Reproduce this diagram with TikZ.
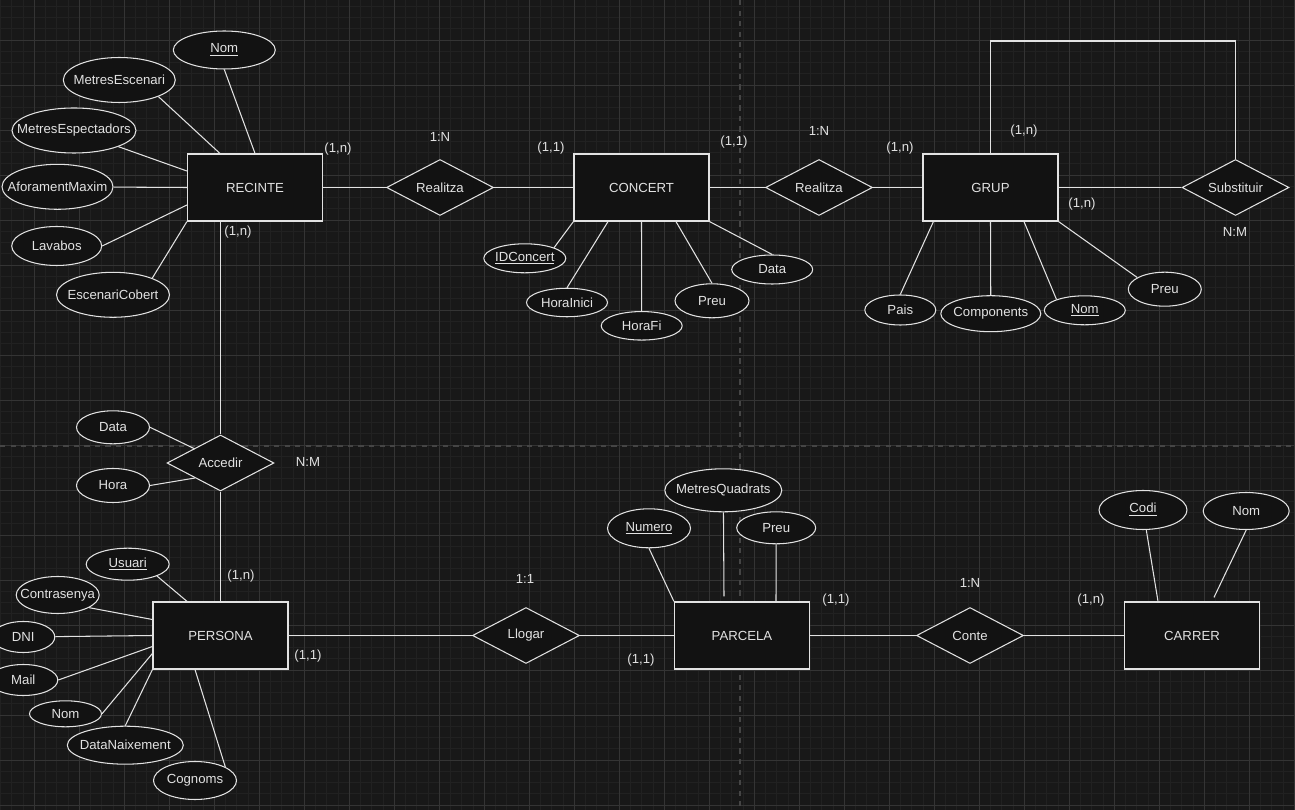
\documentclass[tikz,border=0pt]{standalone}
\usepackage{fontspec}
\setmainfont{Liberation Sans}
\usetikzlibrary{shapes.geometric, positioning}
\definecolor{bg}{HTML}{181818}
\definecolor{gridminor}{HTML}{212121}
\definecolor{gridmajor}{HTML}{343434}
\definecolor{pageline}{HTML}{454545}
\definecolor{ink}{HTML}{E2E2E2}
\definecolor{boxfill}{HTML}{121212}

\begin{document}
\begin{tikzpicture}[x=0.02cm, y=-0.02cm, color=ink, font=\fontsize{7.5}{9}\selectfont,
    ent/.style={draw, fill=boxfill, line width=0.7pt, minimum width=2.7cm, minimum height=1.34cm, inner sep=0pt},
    rel/.style={diamond, aspect=2, draw, fill=boxfill, line width=0.6pt, minimum width=2.14cm, minimum height=1.12cm, inner sep=0pt},
    attr/.style 2 args={ellipse, draw, fill=boxfill, line width=0.6pt, minimum width=#1, minimum height=#2, inner sep=0pt},
    conn/.style={line width=0.6pt},
    card/.style={inner sep=1pt}]
        \useasboundingbox (0,0) rectangle (1295,810);
        \fill[bg] (0,0) rectangle (1295,810);
        \foreach \gx in {0,...,115} \draw[gridminor, line width=0.4pt] ({0.55+11.25*\gx},0) -- ++(0,810);
        \foreach \gy in {0,...,71} \draw[gridminor, line width=0.4pt] (0,{6.25+11.25*\gy}) -- ++(1295,0);
        \foreach \gx in {0,...,28} \draw[gridmajor, line width=0.5pt] ({34.3+45*\gx},0) -- ++(0,810);
        \foreach \gy in {0,...,17} \draw[gridmajor, line width=0.5pt] (0,{40+45*\gy}) -- ++(1295,0);
        \draw[pageline, line width=0.6pt, dash pattern=on 3pt off 3pt] (740,0) -- (740,810);
        \draw[pageline, line width=0.6pt, dash pattern=on 3pt off 3pt] (0,446) -- (1295,446);

        \node[ent] (recinte) at (255,187.5) {RECINTE};
        \node[ent] (concert) at (641.5,187.5) {CONCERT};
        \node[ent] (grup) at (990.5,187.5) {GRUP};
        \node[ent] (persona) at (220.5,635.5) {PERSONA};
        \node[ent] (parcela) at (742,635.5) {PARCELA};
        \node[ent] (carrer) at (1192,635.5) {CARRER};

        \node[rel] (realR) at (440,187.5) {Realitza};
        \node[rel] (realG) at (819,187.5) {Realitza};
        \node[rel] (subst) at (1235.5,187.5) {Substituir};
        \node[rel] (accedir) at (220.5,463) {Accedir};
        \node[rel] (llogar) at (526,635.5) {Llogar};
        \node[rel] (conte) at (970,635.5) {Conte};

        \node[attr={2.04cm}{0.76cm}, label=center:{\underline{Nom}}] (nomR) at (224.3,50) {};
        \node[attr={2.24cm}{0.9cm}, label=center:MetresEscenari] (mescR) at (119.3,80) {};
        \node[attr={2.48cm}{0.9cm}, label=center:MetresEspectadors] (mespR) at (74,130.5) {};
        \node[attr={2.22cm}{0.9cm}, label=center:AforamentMaxim] (aforR) at (57.5,186.8) {};
        \node[attr={1.8cm}{0.78cm}, label=center:Lavabos] (lavR) at (56.7,246) {};
        \node[attr={2.26cm}{0.9cm}, label=center:EscenariCobert] (escR) at (113,294.8) {};

        \node[attr={1.64cm}{0.58cm}, label=center:{\underline{IDConcert}}] (idC) at (524.8,258.3) {};
        \node[attr={1.62cm}{0.57cm}, label=center:HoraInici] (hiniC) at (567,302.5) {};
        \node[attr={1.62cm}{0.57cm}, label=center:HoraFi] (hfiC) at (641.7,325.8) {};
        \node[attr={1.48cm}{0.68cm}, label=center:Preu] (preuC) at (712,300.8) {};
        \node[attr={1.62cm}{0.58cm}, label=center:Data] (dataC) at (772.2,269.5) {};

        \node[attr={1.42cm}{0.6cm}, label=center:Pais] (paisG) at (900.3,310) {};
        \node[attr={2.0cm}{0.72cm}, label=center:Components] (compG) at (990.8,313.7) {};
        \node[attr={1.62cm}{0.58cm}, label=center:{\underline{Nom}}] (nomG) at (1084.8,310.3) {};
        \node[attr={1.46cm}{0.68cm}, label=center:Preu] (preuG) at (1164.8,289.2) {};

        \node[attr={1.46cm}{0.66cm}, label=center:Data] (dataA) at (113,427.3) {};
        \node[attr={1.46cm}{0.68cm}, label=center:Hora] (horaA) at (113,485.5) {};

        \node[attr={1.66cm}{0.64cm}, label=center:{\underline{Usuari}}] (usuP) at (127.7,564.2) {};
        \node[attr={1.66cm}{0.74cm}, label=center:Contrasenya] (contP) at (57.7,595) {};
        \node[attr={1.26cm}{0.62cm}, label=center:DNI] (dniP) at (23.3,637) {};
        \node[attr={1.38cm}{0.62cm}, label=center:Mail] (mailP) at (23.3,680) {};
        \node[attr={1.44cm}{0.52cm}, label=center:Nom] (nomP) at (65.5,713.8) {};
        \node[attr={2.32cm}{0.76cm}, label=center:DataNaixement] (dnP) at (125.3,745.2) {};
        \node[attr={1.66cm}{0.76cm}, label=center:Cognoms] (cogP) at (195,780.5) {};

        \node[attr={1.66cm}{0.78cm}, label=center:{\underline{Numero}}] (numP) at (649,528.3) {};
        \node[attr={2.34cm}{0.86cm}, label=center:MetresQuadrats] (mqP) at (723.3,490.3) {};
        \node[attr={1.58cm}{0.64cm}, label=center:Preu] (preuP) at (776.2,527.8) {};

        \node[attr={1.76cm}{0.78cm}, label=center:{\underline{Codi}}] (codiC) at (1143,510) {};
        \node[attr={1.72cm}{0.74cm}, label=center:Nom] (nomC) at (1246.2,511) {};

        \node[card] (cR1) at (338,149) {(1,n)};
        \node[card] (tR) at (440,137) {1:N};
        \node[card] (cC1) at (551,148) {(1,1)};
        \node[card] (cC2) at (734,142) {(1,1)};
        \node[card] (tG) at (819,131) {1:N};
        \node[card] (cG1) at (900,148) {(1,n)};
        \node[card] (cG2) at (1024,131) {(1,n)};
        \node[card] (cG3) at (1082,204) {(1,n)};
        \node[card] (tS) at (1235,232) {N:M};
        \node[card] (cR2) at (238,232) {(1,n)};
        \node[card] (tA) at (308,462) {N:M};
        \node[card] (cP1) at (241,576) {(1,n)};
        \node[card] (cP2) at (308,656) {(1,1)};
        \node[card] (tL) at (525,579) {1:1};
        \node[card] (cL) at (641,660) {(1,1)};
        \node[card] (cQ) at (836,600) {(1,1)};
        \node[card] (tC) at (970,583) {1:N};
        \node[card] (cK) at (1091,600) {(1,n)};

        \draw[conn] (recinte) -- (realR) -- (concert) -- (realG) -- (grup) -- (subst);
        \coordinate (loopc) at (1235.5,41);
        \draw[conn] (grup.north) |- (loopc) -- (subst.north);
        \draw[conn] (accedir |- recinte.south) -- (accedir.north);
        \draw[conn] (accedir.south) -- (persona.north);
        \draw[conn] (persona) -- (llogar) -- (parcela) -- (conte) -- (carrer);

        \draw[conn] (nomR.south) -- (recinte.north);
        \draw[conn] (mescR.-23) -- ([xshift=0.66cm]recinte.north west);
        \draw[conn] (mespR.-20) -- ([yshift=0.33cm]recinte.west);
        \draw[conn] (aforR) -- (recinte.west);
        \draw[conn] (lavR.east) -- ([yshift=-0.35cm]recinte.west);
        \draw[conn] (escR.23) -- (recinte.south west);

        \draw[conn] (idC.20) -- (concert.south west);
        \draw[conn] (hiniC.north) -- ([xshift=-0.67cm]concert.south);
        \draw[conn] (hfiC) -- (concert.south);
        \draw[conn] (preuC.north) -- ([xshift=0.69cm]concert.south);
        \draw[conn] (dataC.north) -- (concert.south east);

        \draw[conn] (paisG.north) -- ([xshift=0.22cm]grup.south west);
        \draw[conn] (compG) -- (grup.south);
        \draw[conn] (nomG.159) -- ([xshift=0.67cm]grup.south);
        \draw[conn] (preuG.157) -- (grup.south east);

        \draw[conn] (dataA.east) -- ([xshift=-0.51cm,yshift=0.28cm]accedir.center);
        \draw[conn] (horaA.east) -- ([xshift=-0.51cm,yshift=-0.3cm]accedir.center);

        \draw[conn] (usuP.-22) -- ([xshift=-0.67cm]persona.north);
        \draw[conn] (contP.-22) -- ([yshift=0.32cm]persona.west);
        \draw[conn] (dniP) -- (persona.west);
        \draw[conn] (mailP.east) -- ([yshift=-0.22cm]persona.west);
        \draw[conn] (nomP.east) -- ([yshift=-0.36cm]persona.west);
        \draw[conn] (dnP.north) -- (persona.south west);
        \draw[conn] (cogP.24) -- ([xshift=-0.51cm]persona.south);

        \draw[conn] (numP.south) -- (parcela.north west);
        \draw[conn] (mqP) -- ([xshift=-0.36cm,yshift=0.1cm]parcela.north);
        \draw[conn] (preuP.south) -- ([xshift=0.68cm]parcela.north);

        \draw[conn] (codiC) -- ([xshift=-0.68cm]carrer.north);
        \draw[conn] (nomC.south) -- ([xshift=0.44cm,yshift=0.08cm]carrer.north);
      \end{tikzpicture}
\end{document}
